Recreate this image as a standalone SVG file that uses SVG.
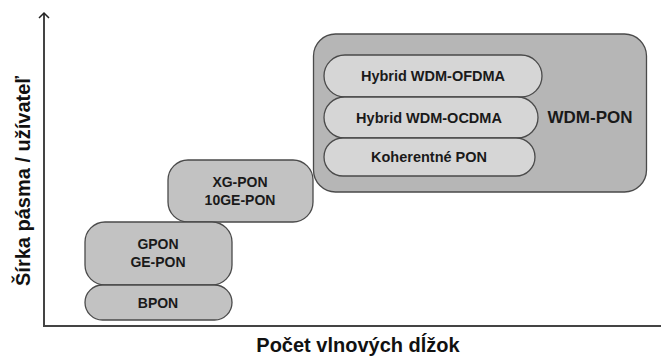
<svg xmlns="http://www.w3.org/2000/svg" width="661" height="356" viewBox="0 0 661 356">
  <style>
    .box { fill: #c2c2c2; stroke: #4a4a4a; stroke-width: 1.3; }
    .outer { fill: #b6b6b6; stroke: #4a4a4a; stroke-width: 1.3; }
    .pill { fill: #d6d6d6; stroke: #4a4a4a; stroke-width: 1.3; }
    .lbl { font-family: "Liberation Sans", Arial, sans-serif; font-weight: bold; fill: #1a1a1a; text-anchor: middle; }
    .small { font-size: 14px; }
    .inner { font-size: 14.5px; }
    .axis { stroke: #444; stroke-width: 2; fill: none; }
    .axlbl { font-family: "Liberation Sans", Arial, sans-serif; font-weight: bold; fill: #111; font-size: 20px; text-anchor: middle; }
  </style>
  <defs>
    <!-- open chevron head, drawn along +x so orient="auto" points it along the line -->
    <marker id="openArrow" markerWidth="12" markerHeight="12" refX="8" refY="6" orient="auto" markerUnits="userSpaceOnUse">
      <path d="M3,1 L8,6 L3,11" fill="none" stroke="#222" stroke-width="1.5"/>
    </marker>
  </defs>

  <rect width="661" height="356" fill="#fff"/>

  <!-- axes -->
  <g id="connectors">
    <line class="axis" x1="44" y1="326" x2="44" y2="13" marker-end="url(#openArrow)"/>
    <line class="axis" x1="43" y1="326" x2="661" y2="326"/>
  </g>
  <text class="axlbl" transform="translate(30,181) rotate(-90)">Šírka pásma / užívateľ</text>
  <text class="axlbl" x="358" y="352">Počet vlnových dĺžok</text>

  <!-- WDM-PON family -->
  <g id="wdm-pon">
    <rect class="outer" x="313.5" y="34" width="333" height="158" rx="22"/>
    <text class="lbl" x="590" y="123" font-size="17">WDM-PON</text>
  </g>
  <g id="hybrid-ofdma">
    <rect class="pill" x="324" y="55" width="218" height="42" rx="21"/>
    <text class="lbl inner" x="433" y="81">Hybrid WDM-OFDMA</text>
  </g>
  <g id="hybrid-ocdma">
    <rect class="pill" x="324" y="97" width="214" height="41" rx="20.5"/>
    <text class="lbl inner" x="429" y="122.5">Hybrid WDM-OCDMA</text>
  </g>
  <g id="koherentne-pon">
    <rect class="pill" x="324" y="138" width="211" height="38" rx="19"/>
    <text class="lbl inner" x="429" y="162">Koherentné PON</text>
  </g>

  <!-- XG-PON -->
  <g id="xg-pon">
    <rect class="box" x="168" y="160" width="145" height="62" rx="20"/>
    <text class="lbl small" x="240" y="187">XG-PON</text>
    <text class="lbl small" x="240" y="204.5">10GE-PON</text>
  </g>

  <!-- GPON -->
  <g id="gpon">
    <rect class="box" x="85" y="222" width="147" height="63" rx="20"/>
    <text class="lbl small" x="158" y="249">GPON</text>
    <text class="lbl small" x="158" y="267">GE-PON</text>
  </g>

  <!-- BPON -->
  <g id="bpon">
    <rect class="box" x="85" y="285" width="147" height="35" rx="17.5"/>
    <text class="lbl small" x="158" y="307.5">BPON</text>
  </g>
</svg>
